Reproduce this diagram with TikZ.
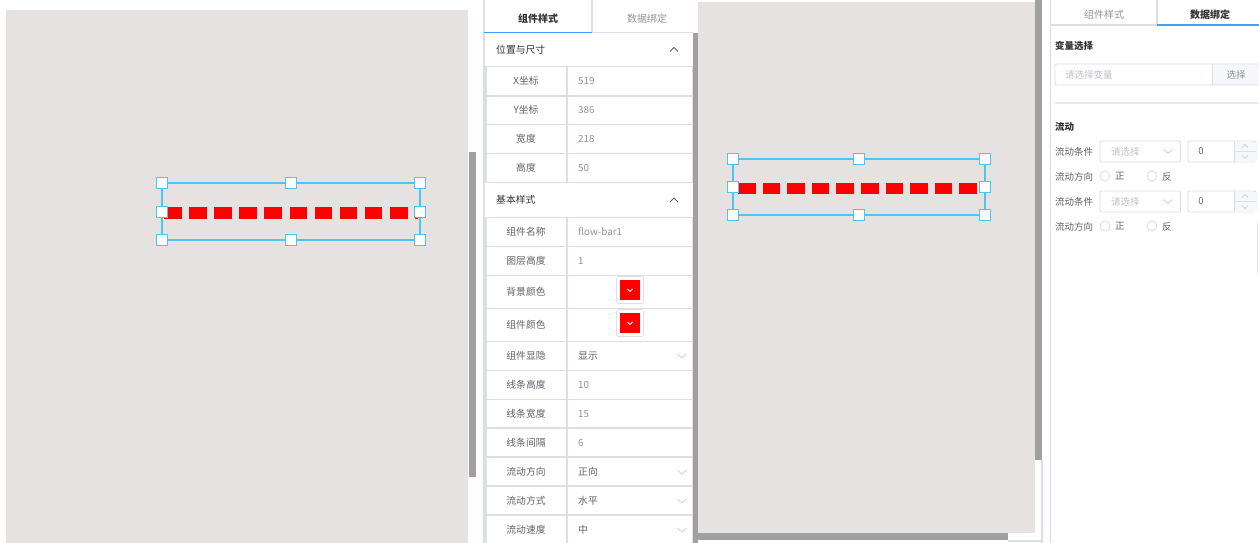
\documentclass[tikz,border=0pt]{standalone}
\usepackage{fontspec}
\newfontfamily\cjk{Noto Sans CJK SC}
\definecolor{canvas}{HTML}{E7E2E2}
\definecolor{scrollc}{HTML}{A0A0A0}
\definecolor{linec}{HTML}{DCDFE6}
\definecolor{lblc}{HTML}{606266}
\definecolor{valc}{HTML}{909399}
\definecolor{phc}{HTML}{BFC2C8}
\definecolor{chevc}{HTML}{D3D6DC}
\definecolor{darkc}{HTML}{303133}
\definecolor{bluec}{HTML}{409EFF}
\definecolor{selc}{HTML}{4CC6EC}
\definecolor{redc}{HTML}{FF0000}
\definecolor{btnc}{HTML}{F5F7FA}
\begin{document}
\begin{tikzpicture}[x=1pt,y=-1pt,
  lbl/.style={font=\cjk\fontsize{9.8}{11}\selectfont, text=lblc, inner sep=0, anchor=center},
  val/.style={font=\cjk\fontsize{9.8}{11}\selectfont, text=valc, inner sep=0, anchor=west},
  valdark/.style={font=\cjk\fontsize{9.8}{11}\selectfont, text=lblc, inner sep=0, anchor=west},
  hdr/.style={font=\cjk\fontsize{9.8}{11}\selectfont, text=darkc, inner sep=0, anchor=west},
  tabb/.style={font=\cjk\bfseries\fontsize{10}{12}\selectfont, text=darkc, inner sep=0},
  tabn/.style={font=\cjk\fontsize{10}{12}\selectfont, text=valc, inner sep=0},
  rlbl/.style={font=\cjk\fontsize{9.5}{11}\selectfont, text=lblc, inner sep=0, anchor=west},
  rph/.style={font=\cjk\fontsize{9.5}{11}\selectfont, text=phc, inner sep=0, anchor=west},
  rbold/.style={font=\cjk\bfseries\fontsize{9.5}{11}\selectfont, text=darkc, inner sep=0, anchor=west},
  gline/.style={draw=linec, line width=1.1},
  chev/.style={draw=chevc, line width=0.9},
  chevup/.style={draw=lblc, line width=1},
  handle/.style={draw=selc, fill=white, line width=1.4, minimum size=10.5, inner sep=0},
  selbox/.style={draw=selc, line width=1.5},
  dashbar/.style={draw=redc, line width=12},
  swatch/.style={fill=redc, draw=white, line width=0, minimum size=21, inner sep=0},
  radio/.style={circle, draw=linec, line width=0.9, minimum size=10, inner sep=0},
  boxr/.style={draw=linec, line width=0.9, rounded corners=2}
]
\useasboundingbox (0,0) rectangle (1259,543);
\fill[white] (0,0) rectangle (1259,543);

% ---------------- left canvas ----------------
\fill[canvas] (6,10) rectangle (468,543);
\fill[scrollc] (469,152) rectangle (476,477);
\coordinate (LA) at (162,183);
\coordinate (LB) at (420,240);
\draw[dashbar, dash pattern=on 17.6 off 7.5] (164,212.5) -- (418,212.5);
\draw[selbox] (LA) rectangle (LB);
\foreach \n/\x/\y in {1/162/183,2/291/183,3/420/183,4/162/212,5/420/212,6/162/240,7/291/240,8/420/240}
  \node[handle] (Lh\n) at (\x,\y) {};

% ---------------- middle panel ----------------
\draw[gline] (484,0) -- (484,543);
\node[tabb] (mt1) at (538,19) {组件样式};
\node[tabn] (mt2) at (647,19) {数据绑定};
\draw[gline] (592,0) -- (592,32);
\draw[gline] (484,32.5) -- (693,32.5);
\draw[bluec, line width=1.5] (484,32.5) -- (592,32.5);
\fill[scrollc] (693,33) rectangle (698,543);

% section 1
\node[hdr] (sec1) at (496,50) {位置与尺寸};
\draw[chevup] (670,51.5) -- (674,47.5) -- (678,51.5);
\foreach \y in {66.5,96,124.5,153.5,182.5}
  \draw[gline] (485,\y) -- (693,\y);
\draw[gline] (486,66.5) -- (486,182.5);
\draw[gline] (567,66.5) -- (567,182.5);
\draw[gline] (692.5,66.5) -- (692.5,182.5);
\node[lbl] (l1) at (526,81) {X坐标};
\node[lbl] (l2) at (526,110) {Y坐标};
\node[lbl] (l3) at (526,139) {宽度};
\node[lbl] (l4) at (526,168) {高度};
\node[val] (v1) at (578,81) {519};
\node[val] (v2) at (578,110) {386};
\node[val] (v3) at (578,139) {218};
\node[val] (v4) at (578,168) {50};

% section 2
\node[hdr] (sec2) at (496,200) {基本样式};
\draw[chevup] (670,202) -- (674,198) -- (678,202);
\foreach \y in {217.5,246.5,275.5,308.5,341.5,370.5,399.5,428,457,486,515}
  \draw[gline] (485,\y) -- (693,\y);
\draw[gline] (486,217.5) -- (486,543);
\draw[gline] (567,217.5) -- (567,543);
\draw[gline] (692.5,217.5) -- (692.5,543);
\node[lbl] (l5) at (526,232) {组件名称};
\node[lbl] (l6) at (526,261) {图层高度};
\node[lbl] (l7) at (526,292) {背景颜色};
\node[lbl] (l8) at (526,325) {组件颜色};
\node[lbl] (l9) at (526,356) {组件显隐};
\node[lbl] (l10) at (526,385) {线条高度};
\node[lbl] (l11) at (526,414) {线条宽度};
\node[lbl] (l12) at (526,443) {线条间隔};
\node[lbl] (l13) at (526,472) {流动方向};
\node[lbl] (l14) at (526,501) {流动方式};
\node[lbl] (l15) at (526,530) {流动速度};
\node[val] (v5) at (578,232) {flow-bar1};
\node[val] (v6) at (578,261) {1};
\node[valdark] (v9) at (578,356) {显示};
\node[val] (v10) at (578,385) {10};
\node[val] (v11) at (578,414) {15};
\node[val] (v12) at (578,443) {6};
\node[valdark] (v13) at (578,472) {正向};
\node[valdark] (v14) at (578,501) {水平};
\node[valdark] (v15) at (578,530) {中};
% colour swatches
\draw[linec, line width=0.6, rounded corners=1.5] (616.5,276.5) rectangle (643.5,303.5);
\node[swatch] (sw1) at (630,290) {};
\draw[white, line width=0.8] (627.5,289) -- (630,291.5) -- (632.5,289);
\draw[linec, line width=0.6, rounded corners=1.5] (616.5,309.5) rectangle (643.5,336.5);
\node[swatch] (sw2) at (630,323) {};
\draw[white, line width=0.8] (627.5,322) -- (630,324.5) -- (632.5,322);
% dropdown chevrons
\foreach \y in {356,472,501,530}
  \draw[chev] (677.5,\y-2) -- (682,\y+2) -- (686.5,\y-2);

% ---------------- right canvas ----------------
\fill[canvas] (698,2) rectangle (1035,533);
\fill[scrollc] (1035,0) rectangle (1042,460);
\fill[scrollc] (698,533) rectangle (1008,540);
\draw[gline] (1042,460) -- (1042,543);
\draw[gline] (1008,541) -- (1042,541);
\coordinate (RA) at (733,159);
\coordinate (RB) at (985,215);
\draw[dashbar, line width=11.5, dash pattern=on 17.5 off 7.1] (738,188.5) -- (978,188.5);
\draw[selbox] (RA) rectangle (RB);
\foreach \n/\x/\y in {1/733/159,2/859/159,3/985/159,4/733/187,5/985/187,6/733/215,7/859/215,8/985/215}
  \node[handle] (Rh\n) at (\x,\y) {};

% ---------------- right panel ----------------
\draw[gline] (1050.5,0) -- (1050.5,543);
\node[tabn] (rt1) at (1104,15) {组件样式};
\node[tabb] (rt2) at (1210,15) {数据绑定};
\draw[gline] (1157,0) -- (1157,25);
\draw[gline] (1051,25) -- (1157,25);
\draw[bluec, line width=1.5] (1157,25) -- (1259,25);

\node[rbold] (varsel) at (1055,46) {变量选择};
\fill[btnc] (1212,64) rectangle (1259,85);
\draw[boxr] (1055,64) rectangle (1262,85);
\draw[linec, line width=0.9] (1212,64) -- (1212,85);
\node[rph] (varph) at (1065,74.5) {请选择变量};
\node[font=\cjk\fontsize{9.5}{11}\selectfont, text=valc, inner sep=0] (selbtn) at (1236,74.5) {选择};
\draw[draw=linec!70, line width=1.5] (1055,103) -- (1259,103);

\node[rbold] (flow) at (1055,127) {流动};

% row set 1
\node[rlbl] (fc1) at (1055,151.5) {流动条件};
\draw[boxr] (1100,141) rectangle (1180.5,162);
\node[rph] (sel1) at (1111,151.5) {请选择};
\draw[chev] (1163.5,149.5) -- (1168,153.5) -- (1172.5,149.5);
\draw[boxr] (1188,141) rectangle (1256,162);
\fill[btnc] (1234.5,141.5) rectangle (1255.5,161.5);
\draw[linec, line width=0.9] (1234.5,141) -- (1234.5,162);
\draw[linec, line width=0.9] (1234.5,151.5) -- (1256,151.5);
\node[font=\cjk\fontsize{9.5}{11}\selectfont, text=lblc, inner sep=0] (num1) at (1201,151.5) {0};
\draw[chev] (1242,147.5) -- (1245,144.5) -- (1248,147.5);
\draw[chev] (1242,155.5) -- (1245,158.5) -- (1248,155.5);
\node[rlbl] (fd1) at (1055,176.5) {流动方向};
\node[radio] (ra1) at (1105,176) {};
\node[rlbl] (zh1) at (1115,176.5) {正};
\node[radio] (rb1) at (1152,176) {};
\node[rlbl] (fa1) at (1162,176.5) {反};

% row set 2
\node[rlbl] (fc2) at (1055,201.5) {流动条件};
\draw[boxr] (1100,191) rectangle (1180.5,212);
\node[rph] (sel2) at (1111,201.5) {请选择};
\draw[chev] (1163.5,199.5) -- (1168,203.5) -- (1172.5,199.5);
\draw[boxr] (1188,191) rectangle (1256,212);
\fill[btnc] (1234.5,191.5) rectangle (1255.5,211.5);
\draw[linec, line width=0.9] (1234.5,191) -- (1234.5,212);
\draw[linec, line width=0.9] (1234.5,201.5) -- (1256,201.5);
\node[font=\cjk\fontsize{9.5}{11}\selectfont, text=lblc, inner sep=0] (num2) at (1201,201.5) {0};
\draw[chev] (1242,197.5) -- (1245,194.5) -- (1248,197.5);
\draw[chev] (1242,205.5) -- (1245,208.5) -- (1248,205.5);
\node[rlbl] (fd2) at (1055,226.5) {流动方向};
\node[radio] (ra2) at (1105,226) {};
\node[rlbl] (zh2) at (1115,226.5) {正};
\node[radio] (rb2) at (1152,226) {};
\node[rlbl] (fa2) at (1162,226.5) {反};

\draw[linec, line width=0.8] (1257.5,223) -- (1257.5,273);
\end{tikzpicture}
\end{document}
